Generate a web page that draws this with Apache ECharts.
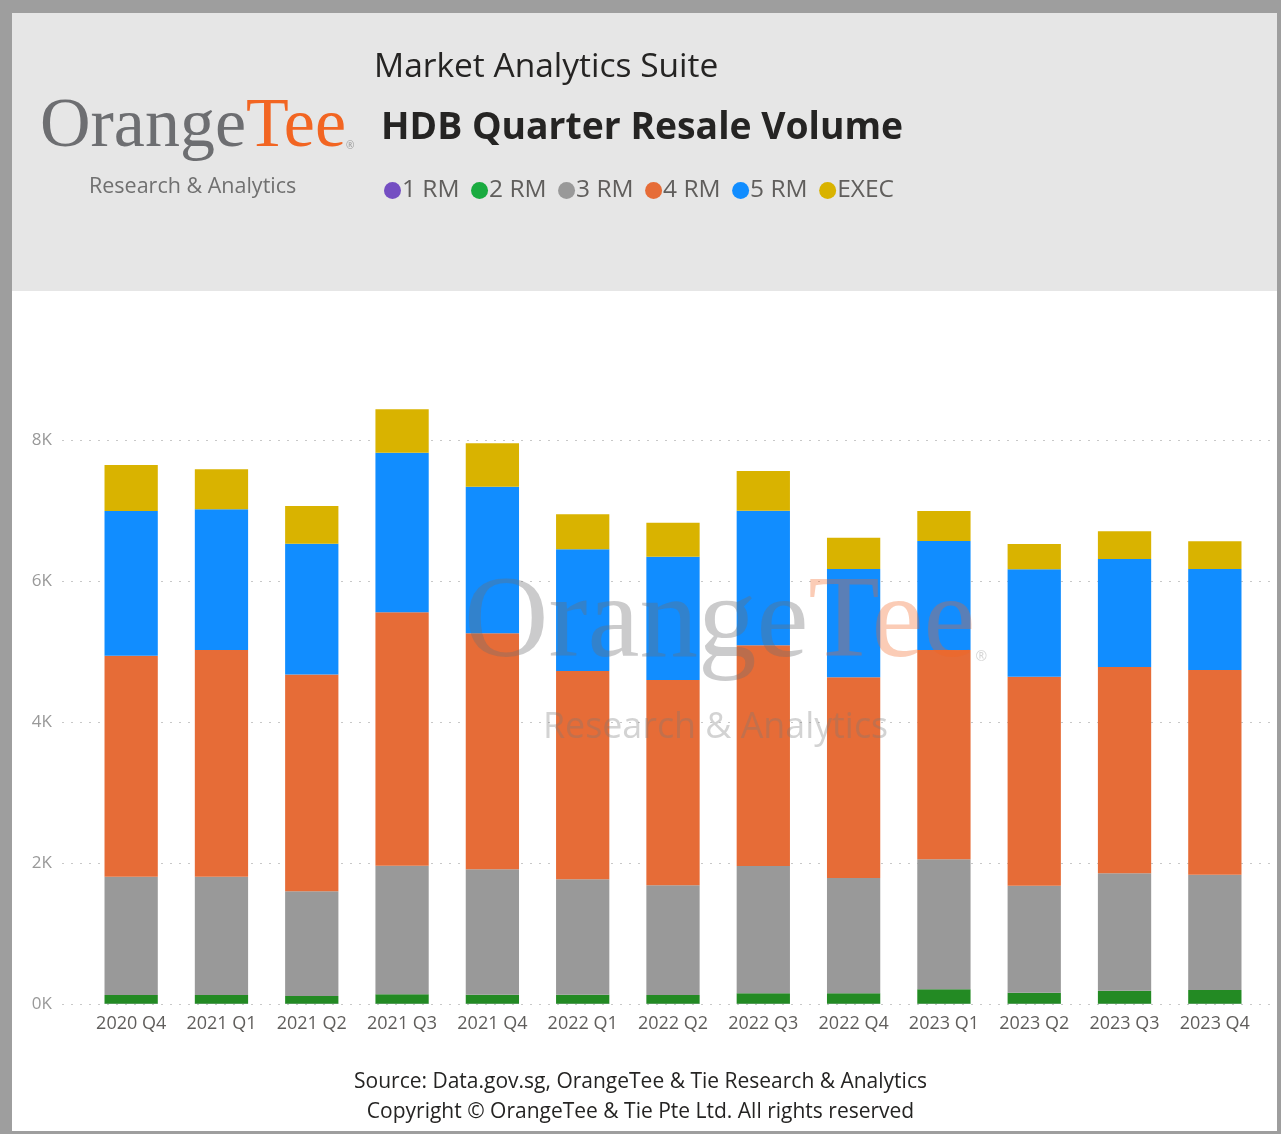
<!DOCTYPE html>
<html>
<head>
<meta charset="utf-8">
<script src="https://cdn.jsdelivr.net/npm/echarts@6/dist/echarts.min.js"></script>
<style>
html,body{margin:0;padding:0;background:#9e9e9e;}
#chart{width:1281px;height:1134px;}
</style>
</head>
<body>
<div id="chart"></div>
<script>
const categories = ['2020 Q4','2021 Q1','2021 Q2','2021 Q3','2021 Q4','2022 Q1','2022 Q2','2022 Q3','2022 Q4','2023 Q1','2023 Q2','2023 Q3','2023 Q4'];
const rm1  = [5, 5, 5, 5, 5, 5, 5, 5, 5, 5, 5, 5, 5];
const rm2  = [123, 123, 108, 132, 127, 127, 123, 147, 147, 203, 155, 184, 194];
const rm3  = [1678, 1678, 1485, 1825, 1779, 1637, 1556, 1805, 1635, 1844, 1518, 1665, 1635];
const rm4  = [3134, 3215, 3074, 3594, 3347, 2954, 2912, 3131, 2847, 2969, 2965, 2926, 2904];
const rm5  = [2053, 1996, 1858, 2264, 2080, 1727, 1749, 1910, 1536, 1546, 1523, 1532, 1432];
const exec = [652, 567, 533, 615, 615, 496, 482, 562, 444, 426, 359, 393, 393];
const yTicks = ['0K','2K','4K','6K','8K'];

const FONT = '"Open Sans", "Noto Sans", sans-serif';
const names = ['1 RM','2 RM','3 RM','4 RM','5 RM','EXEC'];
const barColors = ['#744EC2','#238A23','#999999','#E66C37','#118DFF','#D9B300'];
const legendColors = ['#744EC2','#1AAB40','#999999','#E66C37','#118DFF','#D9B300'];
const dataSets = [rm1, rm2, rm3, rm4, rm5, exec];

const chart = echarts.init(document.getElementById('chart'));
const series = names.map((n, i) => ({
  name: n, type: 'bar', stack: 'total', xAxisIndex: 0, yAxisIndex: 0,
  data: dataSets[i], barCategoryGap: '41%', clip: false,
  itemStyle: { color: barColors[i] },
  emphasis: { disabled: true }
}));

chart.setOption({
  animation: false,
  backgroundColor: '#9e9e9e',
  textStyle: { fontFamily: FONT },
  grid: [
    { left: 86, right: 21, top: 440, bottom: 130 },
    { left: 62, right: 6, top: 440, bottom: 130 }
  ],
  xAxis: [
    { type: 'category', gridIndex: 0, data: categories,
      axisLine: { show: false }, axisTick: { show: false },
      axisLabel: { color: '#605E5C', fontSize: 18, margin: 11, interval: 0, hideOverlap: false, fontFamily: FONT } },
    { type: 'category', gridIndex: 1, data: [], show: false }
  ],
  yAxis: [
    { type: 'value', gridIndex: 0, min: 0, max: 8000, interval: 2000, show: false, splitLine: { show: false } },
    { type: 'value', gridIndex: 1, min: 0, max: 8000, interval: 2000,
      axisLine: { show: false }, axisTick: { show: false },
      axisLabel: { color: '#999999', fontSize: 17, margin: 10, fontFamily: FONT,
        formatter: v => yTicks[Math.round(v / 2000)] },
      splitLine: { lineStyle: { color: '#c8c8c8', type: [2, 7], width: 1 } } }
  ],
  legend: {
    left: 379, top: 173, itemWidth: 17, itemHeight: 17, itemGap: 11.5, icon: 'circle',
    selectedMode: false,
    textStyle: { color: '#605E5C', fontSize: 24.5, fontFamily: FONT, padding: [0, 0, 0, -4] },
    data: names.map((n, i) => ({ name: n, itemStyle: { color: legendColors[i] } }))
  },
  graphic: [
    { type: 'rect', z: -10, shape: { x: 12, y: 13, width: 1265, height: 1118 }, style: { fill: '#ffffff' }, silent: true },
    { type: 'rect', z: -9, shape: { x: 12, y: 13, width: 1265, height: 278 }, style: { fill: '#e6e6e6' }, silent: true },
    { type: 'text', z: 10, left: 40, top: 93, style: {
        text: '{a|Orange}{b|Tee}{c|®}',
        rich: {
          a: { fontFamily: '"Liberation Serif", serif', fontSize: 70, fill: '#6d6e71' },
          b: { fontFamily: '"Liberation Serif", serif', fontSize: 70, fill: '#f26522' },
          c: { fontFamily: FONT, fontSize: 10, fill: '#999', verticalAlign: 'bottom', padding: [0,0,12,0] }
        } } },
    { type: 'text', z: 10, left: 89, top: 176, style: { text: 'Research & Analytics', fontFamily: FONT, fontSize: 21.5, fill: '#707070' } },
    { type: 'text', z: 10, left: 374, top: 50, style: { text: 'Market Analytics Suite', fontFamily: FONT, fontSize: 33.5, fill: '#252423' } },
    { type: 'text', z: 10, left: 381, top: 110, style: { text: 'HDB Quarter Resale Volume', fontFamily: FONT, fontSize: 37.3, fontWeight: 'bold', fill: '#252423' } },
    { type: 'text', z: 100, left: 464, top: 567, silent: true, style: {
        text: '{a|Orange}{b|Tee}{c|®}',
        rich: {
          a: { fontFamily: '"Liberation Serif", serif', fontSize: 117, fill: 'rgba(110,110,113,0.36)' },
          b: { fontFamily: '"Liberation Serif", serif', fontSize: 117, fill: 'rgba(242,101,34,0.33)' },
          c: { fontFamily: FONT, fontSize: 14, fill: 'rgba(150,150,150,0.4)', verticalAlign: 'bottom', padding: [0,0,20,0] }
        } } },
    { type: 'text', z: 100, left: 543, top: 710, silent: true, style: { text: 'Research & Analytics', fontFamily: FONT, fontSize: 35.8, fill: 'rgba(120,120,120,0.33)' } },
    { type: 'text', z: 10, left: 'center', top: 1072, style: { text: 'Source: Data.gov.sg, OrangeTee & Tie Research & Analytics', fontFamily: FONT, fontSize: 21, fill: '#252423' } },
    { type: 'text', z: 10, left: 'center', top: 1102, style: { text: 'Copyright © OrangeTee & Tie Pte Ltd. All rights reserved', fontFamily: FONT, fontSize: 21, fill: '#252423' } }
  ],
  series: series
});
</script>
</body>
</html>
